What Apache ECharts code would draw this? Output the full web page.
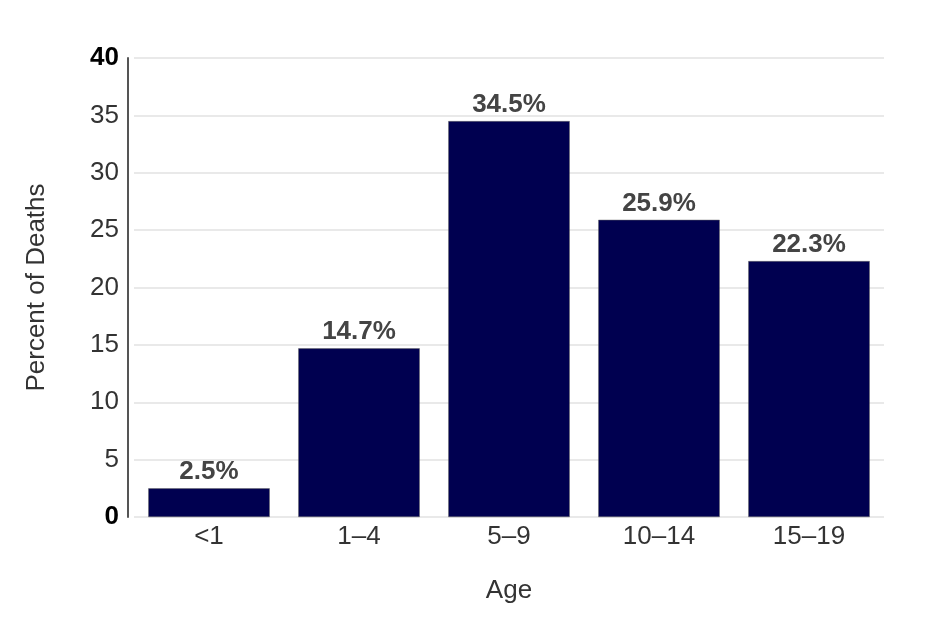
<!doctype html>
<html>
<head>
<meta charset="UTF-8">
<title>Percent of Deaths by Age</title>
<script src="https://cdn.jsdelivr.net/npm/echarts@6/dist/echarts.min.js"></script>
<style>
	html, body { margin: 0; padding: 0; background: #fff; }
	#chart { width: 934px; height: 633px; }
</style>
</head>
<body>
<div id="chart"></div>
<script>
	// data
	var ageGroups = ['<1', '1\u20134', '5\u20139', '10\u201314', '15\u201319'];
	var percentDeaths = [2.5, 14.7, 34.5, 25.9, 22.3];

	var chart = echarts.init(document.getElementById('chart'));

	var option = {
		animation: false,
		grid: { left: 134, right: 50, top: 58, bottom: 116 },
		xAxis: {
			type: 'category',
			data: ageGroups,
			name: 'Age',
			nameLocation: 'middle',
			nameGap: 61,
			nameTextStyle: { fontFamily: 'Liberation Sans', fontSize: 26, color: '#333' },
			axisLine: { show: false },
			axisTick: { show: false },
			axisLabel: { fontFamily: 'Liberation Sans', fontSize: 26, color: '#333', margin: 7 }
		},
		yAxis: {
			type: 'value',
			min: 0,
			max: 40,
			interval: 5,
			offset: 6,
			name: 'Percent of Deaths',
			nameLocation: 'middle',
			nameGap: 78,
			nameTextStyle: { fontFamily: 'Liberation Sans', fontSize: 26, color: '#333' },
			axisLine: { show: true, lineStyle: { color: '#555', width: 2 } },
			axisTick: { show: false },
			splitLine: { lineStyle: { color: '#e2e2e2', width: 1.5 } },
			axisLabel: {
				fontFamily: 'Liberation Sans',
				fontSize: 26,
				color: '#333',
				margin: 9,
				formatter: function (v) {
					return (v === 0 || v === 40) ? '{b|' + v + '}' : String(v);
				},
				rich: {
					b: { fontFamily: 'Liberation Sans', fontSize: 26, fontWeight: 'bold', color: '#000' }
				}
			}
		},
		series: [
			{
				type: 'bar',
				data: percentDeaths,
				barWidth: '81%',
				itemStyle: { color: '#000050', borderColor: '#666', borderWidth: 0.5 },
				label: {
					show: true,
					position: 'top',
					distance: 3,
					formatter: '{c}%',
					fontFamily: 'Liberation Sans',
					fontSize: 26,
					fontWeight: 'bold',
					color: '#444'
				}
			}
		]
	};

	chart.setOption(option);
</script>
</body>
</html>
